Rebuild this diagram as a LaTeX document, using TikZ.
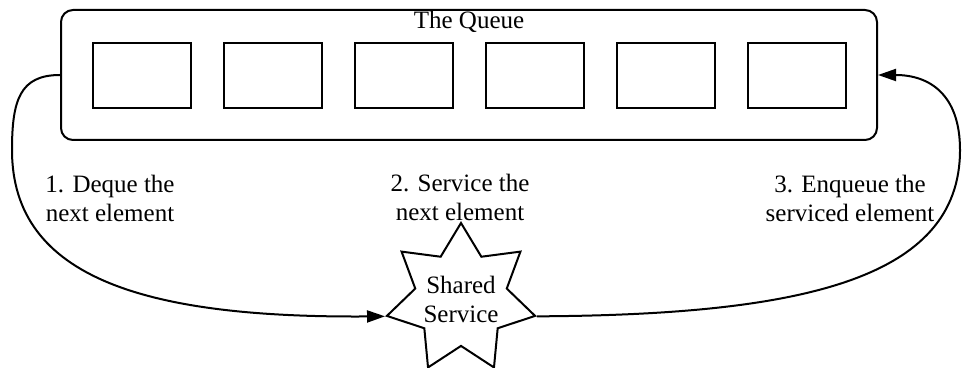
\documentclass[tikz,border=0pt]{standalone}
\usepackage{fontspec}
\setmainfont{Liberation Serif}
\usepackage{tikz}
\usetikzlibrary{arrows.meta,positioning,shapes.geometric}
\tikzset{>=Stealth}

\begin{document}
\begin{tikzpicture}[
    x=0.5pt, y=-0.5pt,
    every node/.style={font=\fontsize{12.5pt}{14.5pt}\selectfont},
    queuebox/.style={rectangle, draw, line width=1pt, rounded corners=6pt,
        minimum width=408pt, minimum height=65pt},
    cell/.style={rectangle, draw, line width=1pt, minimum width=49pt,
        minimum height=32.5pt},
    service/.style={star, star points=7, star point ratio=1.62, draw,
        line width=1pt, inner sep=0pt, minimum size=76pt},
    note/.style={align=center},
    arrow/.style={-{Triangle[length=9pt,width=6pt]}, line width=1pt}
]
    \useasboundingbox (0,0) rectangle (963,368);

    \node[queuebox] (queue) at (469,75) {};
    \node (title) at (469,22) {The Queue};
    \foreach \i in {1,...,6}
        \node[cell] (cell\i) at ({142+131*(\i-1)},75.5) {};

    \node[service, label={[align=center]center:Shared\\Service}] (svc) at (461,299) {};

    \node[note] (deq) at (110,198) {1. Deque the\\next element};
    \node[note] (srv) at (460,197) {2. Service the\\next element};
    \node[note] (enq) at (850,198) {3. Enqueue the\\serviced element};

    \draw[arrow] (queue.west) .. controls (20,75) and (12,100) .. (12,150)
        .. controls (12,280) and (150,318) .. (svc.outer point 3);
    \draw[arrow] (svc.outer point 6) .. controls (800,315) and (960,280) .. (960,150)
        .. controls (960,95) and (930,75) .. (queue.east);
\end{tikzpicture}
\end{document}
